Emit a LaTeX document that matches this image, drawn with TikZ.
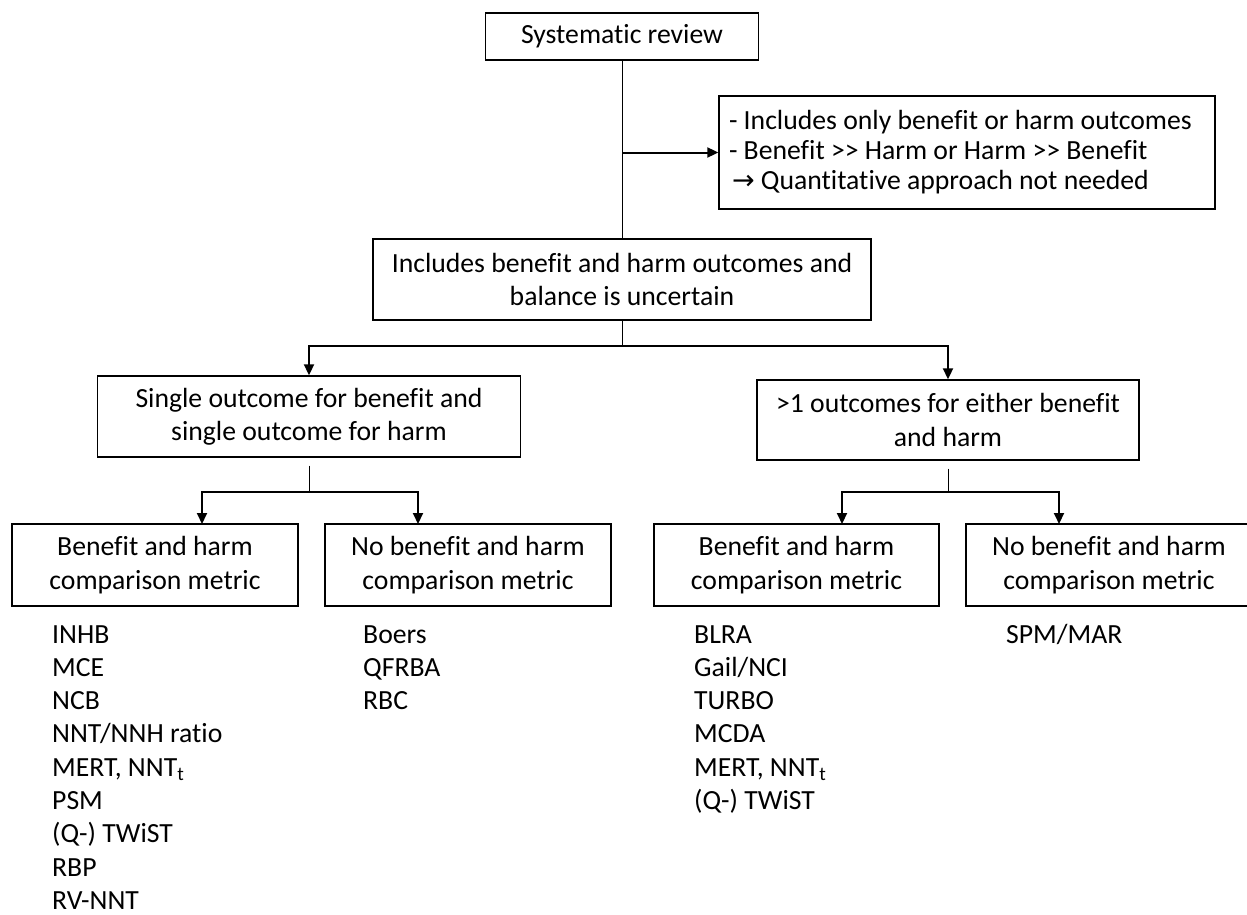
\documentclass[tikz,border=0pt]{standalone}
\usepackage{fontspec}
\setmainfont{Carlito}[Ligatures={TeXOff,CommonOff}]
\newfontfamily\arrowfont{DejaVu Sans}
\usetikzlibrary{arrows.meta,calc}
\newcommand{\mainsz}{\fontsize{27.7}{33.3}\selectfont}
\begin{document}
\begin{tikzpicture}[x=1pt,y=-1pt,
  box/.style={draw=black, line width=1.4pt, inner sep=0pt, align=center, font=\mainsz},
  conn/.style={line width=1pt},
  arr/.style={line width=2pt, -{Triangle[width=10pt,length=11pt]}},
  item/.style={anchor=base west, inner sep=0pt, font=\mainsz}]
\useasboundingbox (0,0) rectangle (1247,915);
% boxes
\node[box, minimum width=273pt, minimum height=47pt] (sr) at (622,36.5) {Systematic review};
\node[box, align=flush left, text width=482pt, inner xsep=7pt, minimum height=113pt,
      font=\fontsize{27.7}{30}\selectfont] (ex) at (967,152.5)
  {\hspace*{3pt}- Includes only benefit or harm outcomes\\
   \hspace*{3pt}- Benefit >> Harm or Harm >> Benefit\\
   \hspace*{6pt}{\arrowfont\fontsize{27}{30}\selectfont →} Quantitative approach not needed};
\node[box, minimum width=498pt, minimum height=81pt] (inc) at (622,279.5)
  {Includes benefit and harm outcomes and\\ balance is uncertain};
\node[box, minimum width=423pt, minimum height=81pt] (smo) at (309,416.5)
  {Single outcome for benefit and\\ single outcome for harm};
\node[box, minimum width=382pt, minimum height=80pt] (mo) at (948,420)
  {>1 outcomes for either benefit\\ and harm};
\node[box, minimum width=286pt, minimum height=82pt] (b1) at (155,565)
  {Benefit and harm\\ comparison metric};
\node[box, minimum width=286pt, minimum height=82pt] (b2) at (468,565)
  {No benefit and harm\\ comparison metric};
\node[box, minimum width=285pt, minimum height=82pt] (b3) at (796.5,565)
  {Benefit and harm\\ comparison metric};
\node[box, minimum width=286pt, minimum height=82pt] (b4) at (1109,565)
  {No benefit and harm\\ comparison metric};
% coordinates
\coordinate (j1) at (622,346);
\coordinate (j2) at (309,492);
\coordinate (j3) at (948,492);
\coordinate (t1) at (202,524);
\coordinate (t2) at (418,524);
\coordinate (t3) at (842,524);
\coordinate (t4) at (1059,524);
% connectors
\draw[conn] (sr.south) -- (inc.north);
\draw[arr] (sr.south |- ex.west) -- (ex.west);
\draw[conn] (inc.south) -- (j1);
\draw[arr] (j1) -| (smo.north);
\draw[arr] (j1) -| (mo.north);
\draw[conn] ([yshift=-8pt]smo.south) -- (j2);
\draw[conn] ([yshift=-8pt]mo.south) -- (j3);
\draw[arr] (j2) -| (t1);
\draw[arr] (j2) -| (t2);
\draw[arr] (j3) -| (t3);
\draw[arr] (j3) -| (t4);
% lists
\foreach \t [count=\i] in {INHB, MCE, NCB, {NNT/NNH ratio}, {MERT, NNT\textsubscript{t}}, PSM, {(Q-) TWiST}, RBP, RV-NNT}
  \node[item] (la\i) at (52,{643+33.33*(\i-1)}) {\t};
\foreach \t [count=\i] in {Boers, QFRBA, RBC}
  \node[item] (lb\i) at (363,{643+33.33*(\i-1)}) {\t};
\foreach \t [count=\i] in {BLRA, Gail/NCI, TURBO, MCDA, {MERT, NNT\textsubscript{t}}, {(Q-) TWiST}}
  \node[item] (lc\i) at (694,{643+33.33*(\i-1)}) {\t};
\node[item] (ld1) at (1006,643) {SPM/MAR};
\end{tikzpicture}
\end{document}
